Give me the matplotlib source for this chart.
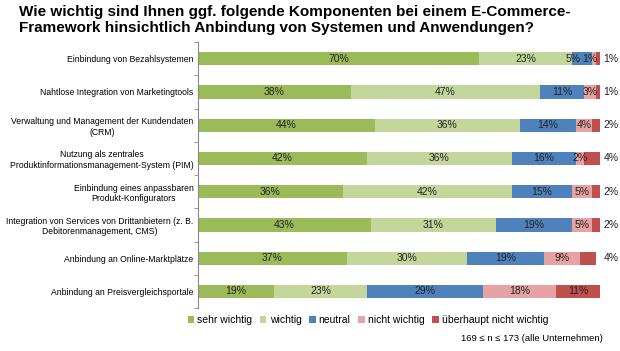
import matplotlib.pyplot as plt
import numpy as np

plt.rcParams['font.family'] = ['Liberation Sans', 'DejaVu Sans']

# Daten
kategorien = ['Einbindung von Bezahlsystemen',
              'Nahtlose Integration von Marketingtools',
              'Verwaltung und Management der Kundendaten\n(CRM)',
              'Nutzung als zentrales\nProduktinformationsmanagement-System (PIM)',
              'Einbindung eines anpassbaren\nProdukt-Konfigurators',
              'Integration von Services von Drittanbietern (z. B.\nDebitorenmanagement, CMS)',
              'Anbindung an Online-Marktplätze',
              'Anbindung an Preisvergleichsportale']
sehr_wichtig = [70, 38, 44, 42, 36, 43, 37, 19]
wichtig = [23, 47, 36, 36, 42, 31, 30, 23]
neutral = [5, 11, 14, 16, 15, 19, 19, 29]
nicht_wichtig = [1, 3, 4, 2, 5, 5, 9, 18]
ueberhaupt_nicht = [1, 1, 2, 4, 2, 2, 4, 11]
serien = ['sehr wichtig', 'wichtig', 'neutral', 'nicht wichtig', 'überhaupt nicht wichtig']
farben = ['#9BBB59', '#C3D69B', '#4F81BD', '#E6A3A3', '#C0504D']

werte = [sehr_wichtig, wichtig, neutral, nicht_wichtig, ueberhaupt_nicht]

fig = plt.figure(figsize=(6.2, 3.51), dpi=100)
ax = fig.add_axes([0.319, 0.1225, 0.649, 0.7575])

y = np.arange(len(kategorien))
links = np.zeros(len(kategorien))
texte = {}
for i, (name, v) in enumerate(zip(serien, werte)):
    v = np.array(v, dtype=float)
    ax.barh(y, v, left=links, height=0.4, color=farben[i], label=name)
    for j in range(len(y)):
        if i == 4 and v[j] <= 4:
            ax.text(100.8, y[j], '%d%%' % v[j], va='center', ha='left',
                    fontsize=7.5, color='#222222')
            continue
        t = ax.text(links[j] + v[j] / 2, y[j], '%d%%' % v[j], va='center',
                    ha='center', fontsize=7.5, color='#222222')
        # zu eng beieinander liegende kleine Werte etwas nach links schieben
        if (j, i - 1) in texte and v[j] <= 5:
            vor = texte[(j, i - 1)]
            if links[j] + v[j] / 2 - vor.get_position()[0] < 3.5:
                vor.set_x(vor.get_position()[0] - 2.2)
                t.set_x(t.get_position()[0] - 1.2)
        texte[(j, i)] = t
    links += v

ax.set_xlim(0, 100)
ax.set_ylim(7.5, -0.5)
ax.set_yticks(y)
ax.set_yticklabels(kategorien, fontsize=6.2, multialignment='center')
ax.tick_params(axis='y', length=0, pad=3)
ax.set_yticks(np.arange(-0.5, 8, 1), minor=True)
ax.tick_params(axis='y', which='minor', length=3, color='#888888')
ax.set_xticks([])
for s in ['top', 'right', 'bottom']:
    ax.spines[s].set_visible(False)
ax.spines['left'].set_color('#888888')
ax.spines['left'].set_linewidth(0.8)

fig.text(0.03, 0.985, 'Wie wichtig sind Ihnen ggf. folgende Komponenten bei einem E-Commerce-\n'
         'Framework hinsichtlich Anbindung von Systemen und Anwendungen?',
         fontsize=11, fontweight='bold', va='top', ha='left', linespacing=1.2)

fig.legend(loc='center left', bbox_to_anchor=(0.288, 0.088), ncol=5, frameon=False,
           fontsize=7.5, handlelength=0.6, handleheight=0.6, handletextpad=0.3,
           columnspacing=0.75)
fig.text(0.973, 0.035, '169 ≤ n ≤ 173 (alle Unternehmen)', fontsize=6.8,
         ha='right', va='center')

plt.savefig('out.png', dpi=100)
